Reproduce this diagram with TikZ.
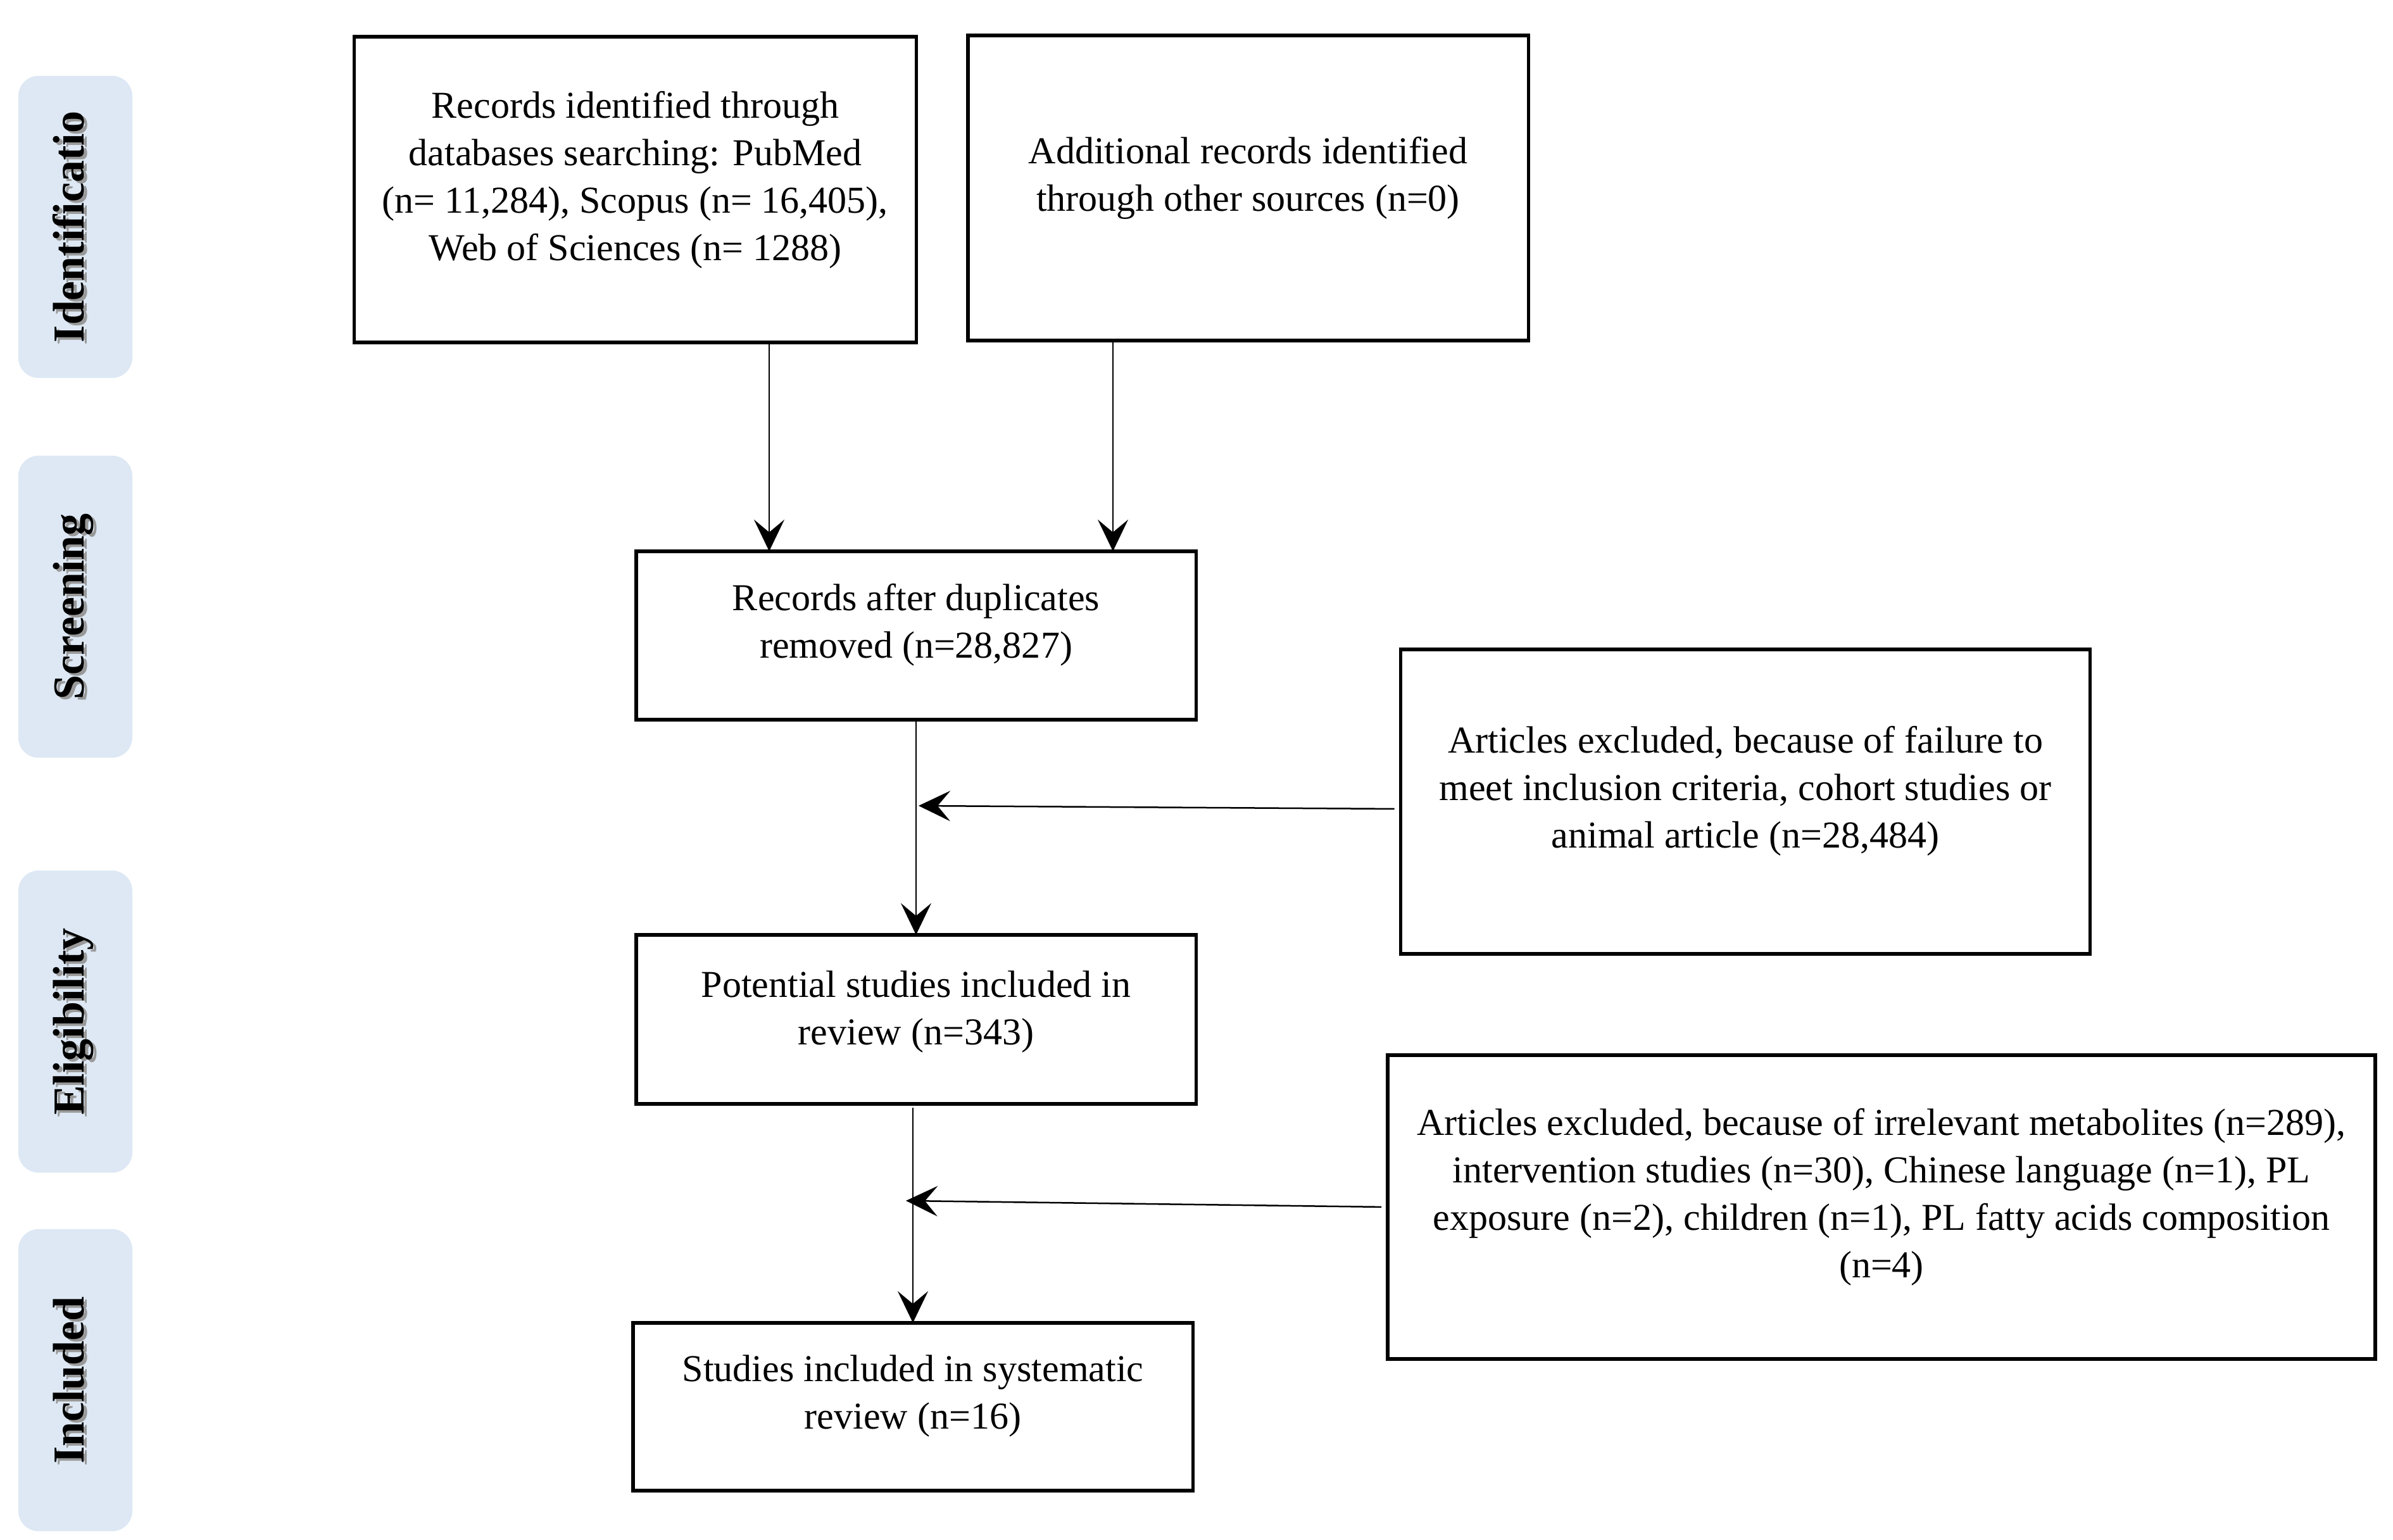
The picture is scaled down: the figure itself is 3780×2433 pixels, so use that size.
\documentclass[tikz,border=0pt]{standalone}
\usepackage{fontspec}
\setmainfont{Liberation Serif}
\usetikzlibrary{arrows.meta,calc}
\definecolor{phasefill}{HTML}{DDE8F4}
\begin{document}
\begin{tikzpicture}[x=0.01cm, y=-0.01cm,
  box/.style={draw, line width=0.055cm, inner sep=0pt, outer sep=0pt, fill=white},
  txt/.style={align=center, font=\fontsize{17.07}{21.34}\selectfont, inner sep=0pt},
  phase/.style={fill=phasefill, rounded corners=0.32cm, inner sep=0pt, outer sep=0pt, minimum width=1.8cm, minimum height=4.77cm},
  ptxt/.style={rotate=90, anchor=base, font=\fontsize{19.9}{24}\selectfont\bfseries, inner sep=0pt},
  pshadow/.style={ptxt, text=black!40},
  arr/.style={line width=0.025cm, -{Stealth[length=0.5cm, width=0.48cm, inset=0.2cm]}},
]
\useasboundingbox (0,0) rectangle (3780,2433);

% phase labels
\node[phase] (p1) at (119,358.5) {};
\node[phase] (p2) at (119,958.5) {};
\node[phase] (p3) at (119,1614) {};
\node[phase] (p4) at (119,2180.5) {};
\node[pshadow] (p1s) at (137,362.5) {Identificatio};
\node[pshadow] (p2s) at (137,962.5) {Screening};
\node[pshadow] (p3s) at (137,1618) {Eligibility};
\node[pshadow] (p4s) at (137,2184.5) {Included};
\node[ptxt] (p1t) at (133,358.5) {Identificatio};
\node[ptxt] (p2t) at (133,958.5) {Screening};
\node[ptxt] (p3t) at (133,1614) {Eligibility};
\node[ptxt] (p4t) at (133,2180.5) {Included};

% boxes
\node[box, minimum width=8.87cm, minimum height=4.83cm] (b1) at (1003.5,299.5) {};
\node[txt] (t1) at (1003.5,284) {Records identified through\\databases searching: PubMed\\(n= 11,284), Scopus (n= 16,405),\\Web of Sciences (n= 1288)};

\node[box, minimum width=8.85cm, minimum height=4.82cm] (b2) at (1971.5,297) {};
\node[txt] (t2) at (1971.5,281) {Additional records identified\\through other sources (n=0)};

\node[box, minimum width=8.84cm, minimum height=2.66cm] (b3) at (1447,1004) {};
\node[txt] (t3) at (1447,987.5) {Records after duplicates\\removed (n=28,827)};

\node[box, minimum width=8.84cm, minimum height=2.67cm] (b4) at (1447,1610.5) {};
\node[txt] (t4) at (1447,1598.5) {Potential studies included in\\review (n=343)};

\node[box, minimum width=8.84cm, minimum height=2.65cm] (b5) at (1442,2222.5) {};
\node[txt] (t5) at (1442,2205.5) {Studies included in systematic\\review (n=16)};

\node[box, minimum width=10.88cm, minimum height=4.81cm] (b6) at (2757,1266.5) {};
\node[txt] (t6) at (2757,1249.5) {Articles excluded, because of failure to\\meet inclusion criteria, cohort studies or\\animal article (n=28,484)};

\node[box, minimum width=15.59cm, minimum height=4.80cm] (b7) at (2972,1907) {};
\node[txt] (t7) at (2972,1891) {Articles excluded, because of irrelevant metabolites (n=289),\\intervention studies (n=30), Chinese language (n=1), PL\\exposure (n=2), children (n=1), PL fatty acids composition\\(n=4)};

% connector helpers
\coordinate (c1) at (1215,0);
\coordinate (c2) at (1758,0);
\coordinate (m1) at (1451,1273);
\coordinate (m2) at (1431,1897);

\draw[arr] (b1.south -| c1) -- (b3.north -| c1);
\draw[arr] (b2.south -| c2) -- (b3.north -| c2);
\draw[arr] (b3.south) -- (b4.north);
\draw[arr, shorten <=0.1cm] ([yshift=-0.115cm]b6.west) -- (m1);
\draw[arr] ([yshift=-0.06cm]b4.south -| b5.north) -- (b5.north);
\draw[arr, shorten <=0.1cm] (b7.west) -- (m2);
\end{tikzpicture}
\end{document}
